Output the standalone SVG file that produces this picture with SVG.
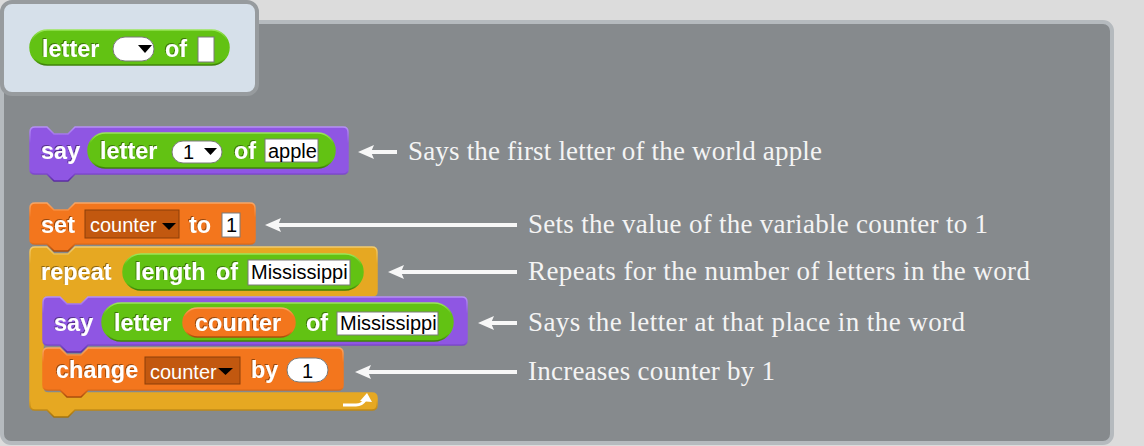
<svg xmlns="http://www.w3.org/2000/svg" width="1144" height="446" viewBox="0 0 1144 446">
<defs>
<linearGradient id="ePurple" x1="0" y1="0" x2="0" y2="1"><stop offset="0" stop-color="#b690f5"/><stop offset="0.3" stop-color="#8f56e3"/><stop offset="0.8" stop-color="#8f56e3"/><stop offset="1" stop-color="#5a2ca0"/></linearGradient>
<linearGradient id="eGreen" x1="0" y1="0" x2="0" y2="1"><stop offset="0" stop-color="#9be65a"/><stop offset="0.3" stop-color="#62c213"/><stop offset="0.8" stop-color="#62c213"/><stop offset="1" stop-color="#3d8008"/></linearGradient>
<linearGradient id="eOrange" x1="0" y1="0" x2="0" y2="1"><stop offset="0" stop-color="#f9a665"/><stop offset="0.3" stop-color="#f3761d"/><stop offset="0.8" stop-color="#f3761d"/><stop offset="1" stop-color="#a84c0c"/></linearGradient>
<linearGradient id="eCtrl" x1="0" y1="0" x2="0" y2="1"><stop offset="0" stop-color="#f3cc6e"/><stop offset="0.1" stop-color="#e6a822"/><stop offset="0.9" stop-color="#e6a822"/><stop offset="1" stop-color="#a3730f"/></linearGradient>
<filter id="ts" x="-10%" y="-30%" width="120%" height="160%">
<feOffset in="SourceAlpha" dx="-1" dy="-1" result="o"/>
<feFlood flood-color="#000" flood-opacity="0.4"/>
<feComposite in2="o" operator="in" result="s"/>
<feMerge><feMergeNode in="s"/><feMergeNode in="SourceGraphic"/></feMerge>
</filter>
<marker id="ah" viewBox="0 0 16 14" refX="4" refY="7" markerWidth="16" markerHeight="14" markerUnits="userSpaceOnUse" orient="auto">
<path d="M0,0 L16,7 L0,14 L3,7 Z" fill="#f7f7f7"/>
</marker>
</defs>
<style>
.lbl{font-family:"Liberation Sans",Arial,sans-serif;font-weight:bold;font-size:23.5px;fill:#fff;filter:url(#ts)}
.inp{font-family:"Liberation Sans",Arial,sans-serif;font-size:20px;fill:#000}
.ddt{font-family:"Liberation Sans",Arial,sans-serif;font-size:20px;fill:#fff}
.note{font-family:"Liberation Serif","Times New Roman",serif;font-size:27px;fill:#f4f4f4}
.purple{fill:#8f56e3;stroke:url(#ePurple);stroke-width:1.5}
.green{fill:#62c213;stroke:url(#eGreen);stroke-width:1.5}
.orange{fill:#f3761d;stroke:url(#eOrange);stroke-width:1.5}
.ctrl{fill:#e6a822;stroke:url(#eCtrl);stroke-width:1.5}
.box{fill:#fff;stroke:#7a7a7a;stroke-width:1}
.dd{fill:#c2580f;stroke:#8c3f0a;stroke-width:1}
.tri{fill:#000}
.conn{stroke:#f7f7f7;stroke-width:4;fill:none;marker-end:url(#ah)}
</style>
<rect x="0" y="0" width="1144" height="446" fill="#dcdcdc"/>
<rect id="scripts" x="2" y="22" width="1110" height="421" rx="9" fill="#868a8d" stroke="#b5babe" stroke-width="4"/>
<g id="palette">
<rect x="2" y="2" width="255" height="92" rx="10" fill="#d6e0ea" stroke="#979b9e" stroke-width="4"/>
<rect class="green" x="30" y="30" width="199" height="35" rx="17.5"/>
<text class="lbl" x="42" y="57">letter</text>
<rect class="box" x="113" y="37" width="41" height="24" rx="12" stroke="none"/>
<polygon class="tri" points="138,45 152,45 145,53"/>
<text class="lbl" x="165" y="57">of</text>
<rect class="box" x="198" y="37" width="16" height="25"/>
</g>
<g id="say-apple">
<path class="purple" d="M30,132 Q30,127 35,127 H47 L54,134 H68 L75,127 H343 Q348,127 348,132 V169 Q348,174 343,174 H75 L68,181 H54 L47,174 H35 Q30,174 30,169 Z"/>
<text class="lbl" x="41" y="159">say</text>
<rect class="green" x="88" y="133" width="247" height="35" rx="17.5"/>
<text class="lbl" x="100" y="159">letter</text>
<rect class="box" x="172" y="141" width="50" height="22" rx="11" stroke="none"/>
<text class="inp" x="183" y="159">1</text>
<polygon class="tri" points="204,148 217,148 210.5,155"/>
<text class="lbl" x="234" y="159">of</text>
<rect class="box" x="265" y="139" width="53" height="23"/>
<text class="inp" x="268" y="158">apple</text>
</g>
<g id="set-counter">
<path class="orange" d="M30,208 Q30,203 35,203 H47 L54,210 H68 L75,203 H250 Q255,203 255,208 V239 Q255,244 250,244 H75 L68,251 H54 L47,244 H35 Q30,244 30,239 Z"/>
<text class="lbl" x="41" y="233">set</text>
<rect class="dd" x="85" y="210" width="94" height="28"/>
<text class="ddt" x="90" y="232">counter</text>
<polygon class="tri" points="162,223 176,223 169,230"/>
<text class="lbl" x="189" y="233">to</text>
<rect class="box" x="222" y="213" width="18" height="24"/>
<text class="inp" x="226" y="232">1</text>
</g>
<g id="repeat">
<path class="ctrl" d="M30,252 Q30,247 35,247 H47 L54,254 H68 L75,247 H372 Q377,247 377,252 V291 Q377,296 372,296 H88 L81,303 H67 L60,296 H48 Q43,296 43,301 V388 Q43,393 48,393 H372 Q377,393 377,398 V405 Q377,410 372,410 H75 L68,417 H54 L47,410 H35 Q30,410 30,405 Z"/>
<text class="lbl" x="41" y="280">repeat</text>
<rect class="green" x="123" y="254" width="240" height="36" rx="18"/>
<text class="lbl" x="135" y="280">length</text>
<text class="lbl" x="216" y="280">of</text>
<rect class="box" x="248" y="260" width="102" height="25"/>
<text class="inp" x="251" y="279">Mississippi</text>
<path d="M343,405 H356 Q362,405 365,400" fill="none" stroke="#fff" stroke-width="3"/>
<polygon points="360,401 367,393 372,402" fill="#fff"/>
</g>
<g id="say-letter">
<path class="purple" d="M43,302 Q43,297 48,297 H60 L67,304 H81 L88,297 H462 Q467,297 467,302 V340 Q467,345 462,345 H88 L81,352 H67 L60,345 H48 Q43,345 43,340 Z"/>
<text class="lbl" x="54" y="331">say</text>
<rect class="green" x="102" y="303" width="351" height="38" rx="19"/>
<text class="lbl" x="114" y="331">letter</text>
<rect class="orange" x="183" y="308" width="112" height="29" rx="14.5"/>
<text class="lbl" x="195" y="331">counter</text>
<text class="lbl" x="306" y="331">of</text>
<rect class="box" x="337" y="312" width="101" height="23"/>
<text class="inp" x="340" y="330">Mississippi</text>
</g>
<g id="change-counter">
<path class="orange" d="M43,353 Q43,348 48,348 H60 L67,355 H81 L88,348 H338 Q343,348 343,353 V385 Q343,390 338,390 H88 L81,397 H67 L60,390 H48 Q43,390 43,385 Z"/>
<text class="lbl" x="56" y="378">change</text>
<rect class="dd" x="145" y="357" width="95" height="27"/>
<text class="ddt" x="150" y="379">counter</text>
<polygon class="tri" points="218,368 233,368 225.5,375"/>
<text class="lbl" x="251" y="378">by</text>
<rect class="box" x="287" y="358" width="41" height="24" rx="12" stroke="none"/>
<text class="inp" x="302" y="378">1</text>
</g>
<g id="connectors">
<line class="conn" x1="397" y1="152" x2="370" y2="152"/>
<line class="conn" x1="517" y1="225" x2="277" y2="225"/>
<line class="conn" x1="517" y1="272" x2="400" y2="272"/>
<line class="conn" x1="517" y1="323" x2="490" y2="323"/>
<line class="conn" x1="517" y1="372" x2="367" y2="372"/>
</g>
<g id="notes">
<text class="note" x="408" y="160" textLength="414" lengthAdjust="spacing">Says the first letter of the world apple</text>
<text class="note" x="528" y="233" textLength="460" lengthAdjust="spacing">Sets the value of the variable counter to 1</text>
<text class="note" x="528" y="280" textLength="502" lengthAdjust="spacing">Repeats for the number of letters in the word</text>
<text class="note" x="528" y="331" textLength="437" lengthAdjust="spacing">Says the letter at that place in the word</text>
<text class="note" x="528" y="380" textLength="247" lengthAdjust="spacing">Increases counter by 1</text>
</g>
</svg>
